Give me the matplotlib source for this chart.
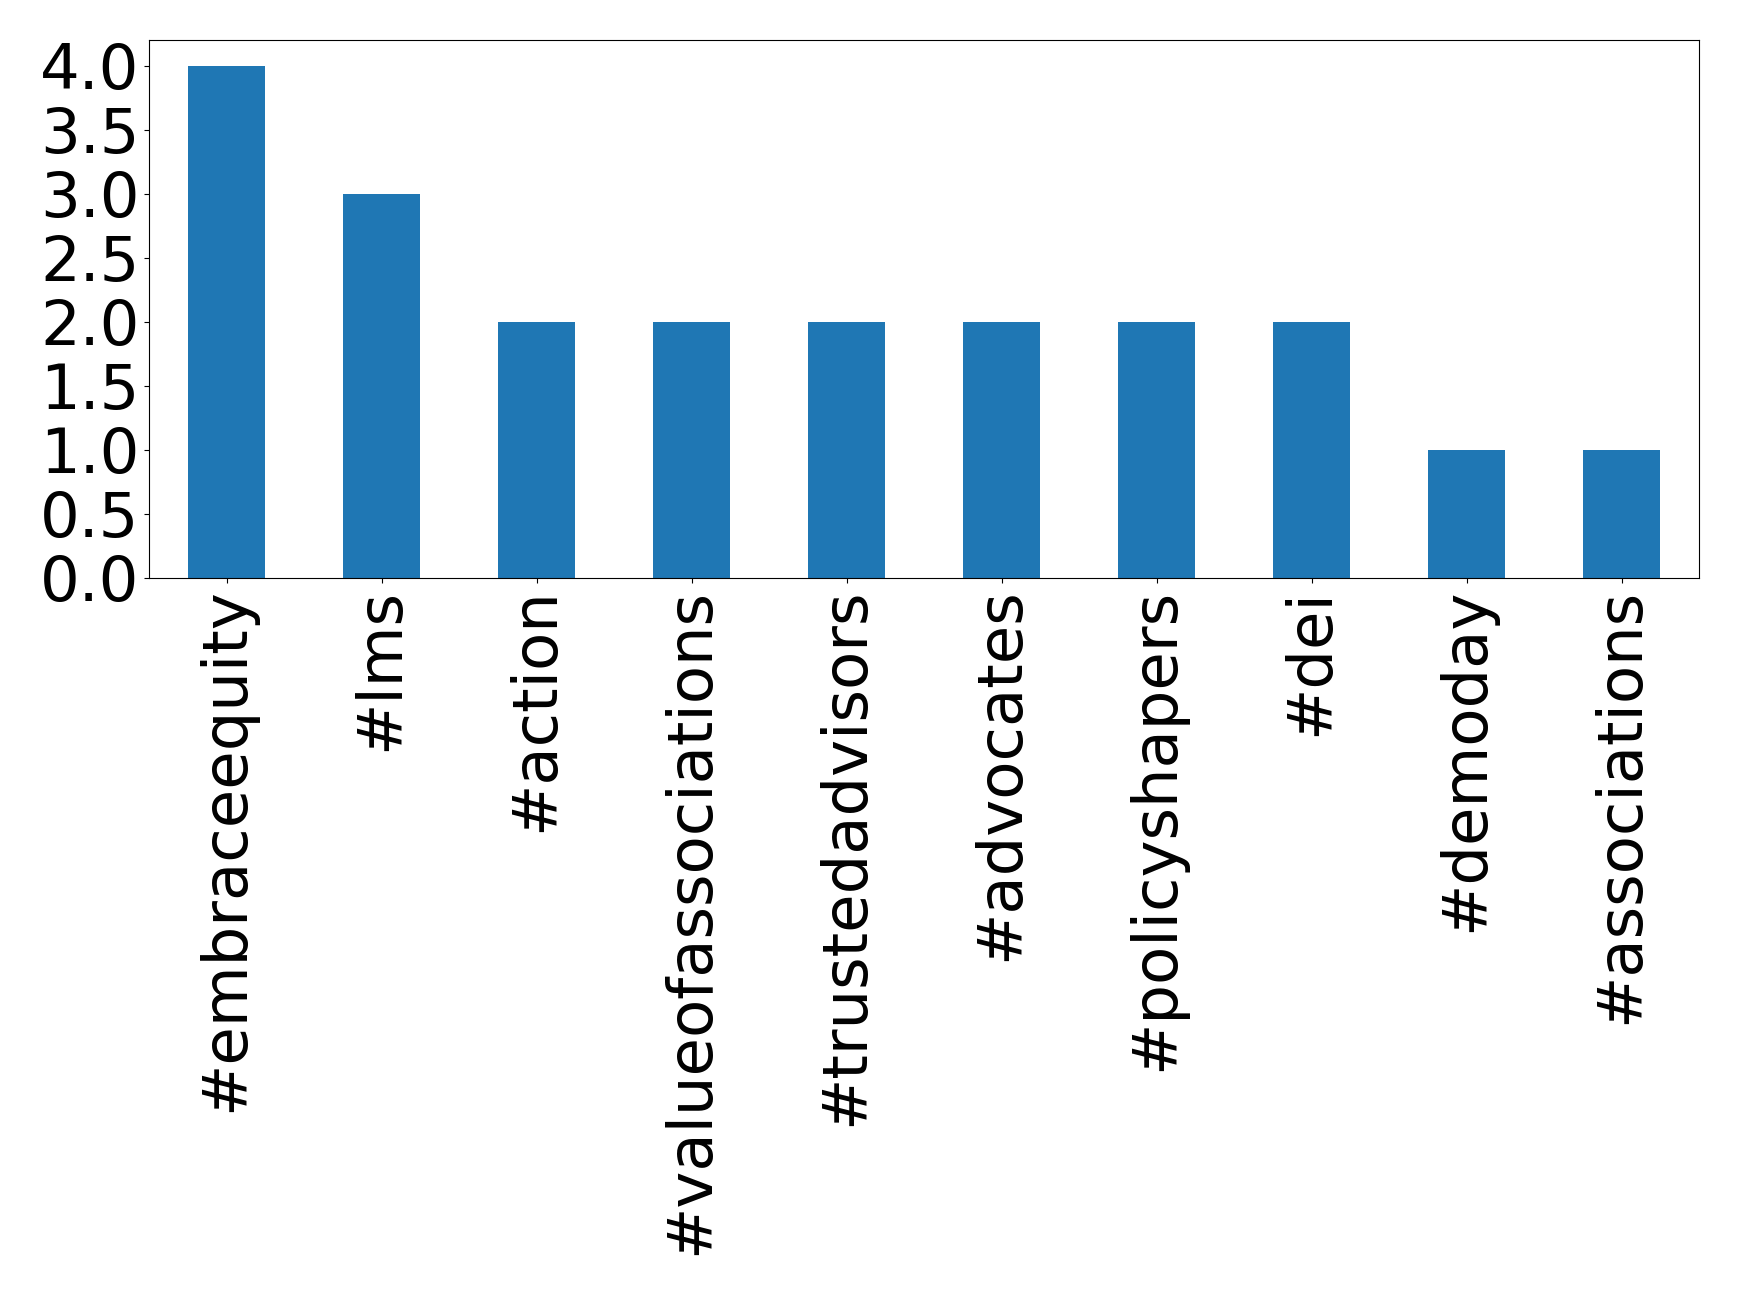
import matplotlib
matplotlib.use("Agg")
import matplotlib.pyplot as plt
import pandas as pd

tags = ['#embraceequity', '#lms', '#action', '#valueofassociations',
        '#trustedadvisors', '#advocates', '#policyshapers', '#dei',
        '#demoday', '#associations']
counts = [4, 3, 2, 2, 2, 2, 2, 2, 1, 1]

s = pd.Series(counts, index=tags)

fig, ax = plt.subplots(figsize=(17.39, 12.95), dpi=100)
s.plot(kind='bar', ax=ax, fontsize=45)
fig.subplots_adjust(left=149/1739, right=1699/1739, top=1-40/1295, bottom=1-578/1295)

fig.savefig('out.png', dpi=100)
